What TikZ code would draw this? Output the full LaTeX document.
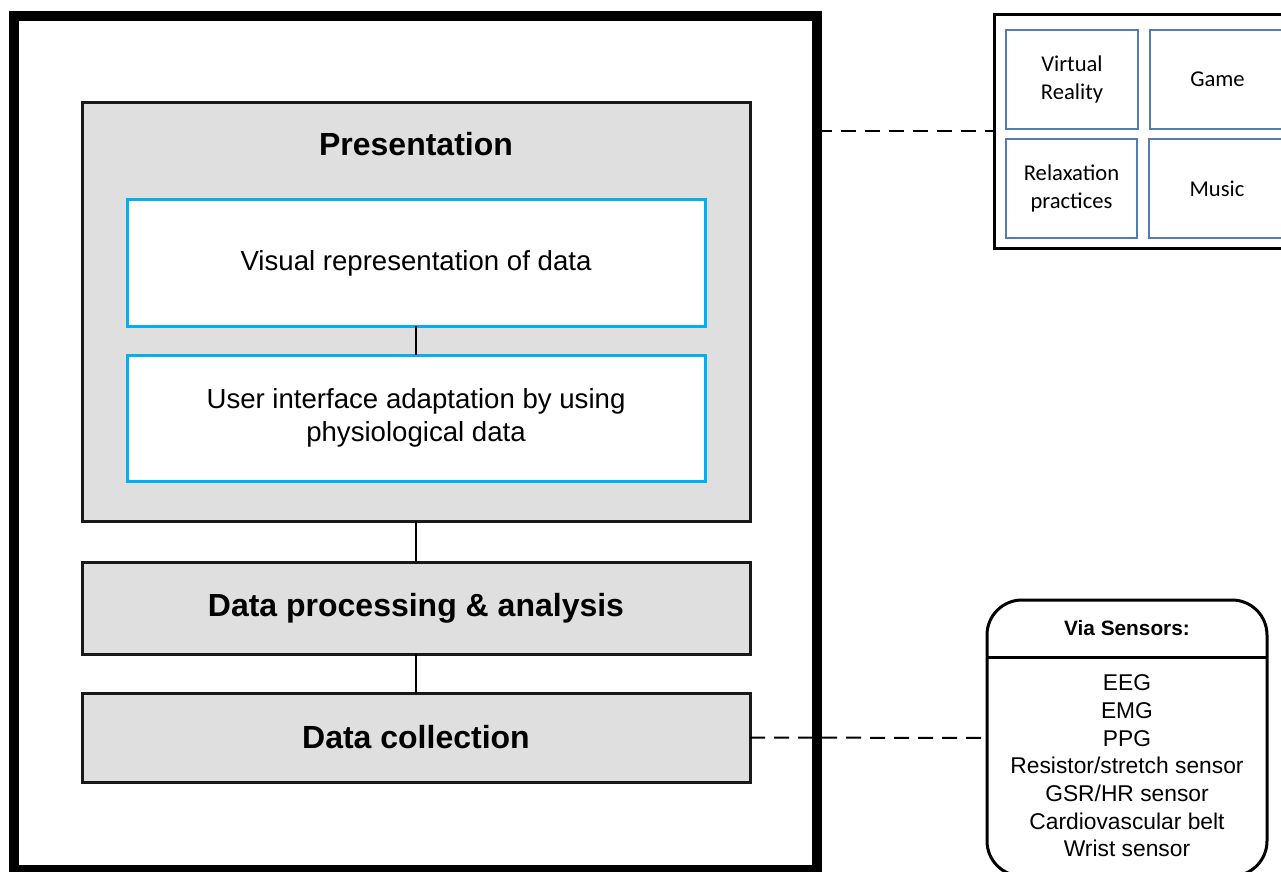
\documentclass[tikz,border=0pt]{standalone}
\usepackage{fontspec}
\setmainfont{Liberation Sans}
\newfontfamily\calibri{Carlito}
\usetikzlibrary{calc}
\definecolor{cyanblue}{RGB}{0,176,240}
\definecolor{tileblue}{RGB}{84,125,175}
\begin{document}
\begin{tikzpicture}[x=0.5pt,y=-0.5pt]
	\path [use as bounding box] (0,0) rectangle (1281,872);
	\clip (0,0) rectangle (1281,872);
	\tikzstyle{every node} = [inner sep=0pt, outer sep=0pt, align=center]
	\tikzstyle{layer} = [draw=black!90, line width=1.5pt, fill=gray!25, minimum width=334pt, font=\bfseries\fontsize{16}{19}\selectfont]
	\tikzstyle{part} = [draw=cyanblue, line width=1.5pt, fill=white, minimum width=289pt, minimum height=63pt, font=\fontsize{13.8}{16.5}\selectfont]
	\tikzstyle{tile} = [draw=tileblue, line width=1pt, minimum height=49.5pt, font=\calibri\fontsize{11.3}{14}\selectfont]
	\tikzstyle{link} = [line width=0.6pt]
	\tikzstyle{dashlink} = [line width=1pt, dash pattern=on 7.5pt off 4.5pt]
	% outer frame
	\node[draw, line width=5pt, minimum width=401.5pt, minimum height=427pt] (frame) at (415.5,443) {};
	% layers
	\node[layer, minimum height=209pt] (pres) at (416,312) {};
	\node[font=\bfseries\fontsize{16}{19}\selectfont] (presT) at (416,144) {Presentation};
	\node[part] (visual) at (416,263) {Visual representation of data};
	\node[part] (adapt) at (416,418) {User interface adaptation by using\\physiological data};
	\node[layer, minimum height=46pt] (proc) at (416,608) {Data processing \& analysis};
	\node[layer, minimum height=44.5pt] (coll) at (416,737.5) {Data collection};
	\draw[link] (visual) -- (adapt);
	\draw[link] (pres) -- (proc);
	\draw[link] (proc) -- (coll);
	% applications
	\node[draw, line width=1.5pt, minimum width=151pt, minimum height=116.5pt] (apps) at (1145,131.5) {};
	\node[tile, minimum width=66pt] (vr) at (1072,79.5) {Virtual\\Reality};
	\node[tile, minimum width=67.5pt] (game) at (1217.5,79.5) {Game};
	\node[tile, minimum width=65.5pt] (relax) at (1071.5,188.5) {Relaxation\\practices};
	\node[tile, minimum width=68pt] (music) at (1217,188.5) {Music};
	\draw[dashlink] (frame.east |- apps.west) -- (apps.west);
	% sensors
	\node[draw, line width=1.5pt, rounded corners=17.5pt, minimum width=140pt, minimum height=138pt] (sens) at (1127,738) {};
	\coordinate (divL) at (987,657);
	\coordinate (divR) at (1267,657);
	\draw[line width=1.5pt] (divL) -- (divR);
	\node[font=\bfseries\fontsize{10.4}{12}\selectfont] (sensT) at (1127,628) {Via Sensors:};
	\node[font=\fontsize{11.4}{13.85}\selectfont] (sensL) at (1127,766) {EEG\\EMG\\PPG\\Resistor/stretch sensor\\GSR/HR sensor\\Cardiovascular belt\\Wrist sensor};
	\draw[dashlink] (coll.east) -- (sens.west);
\end{tikzpicture}
\end{document}
